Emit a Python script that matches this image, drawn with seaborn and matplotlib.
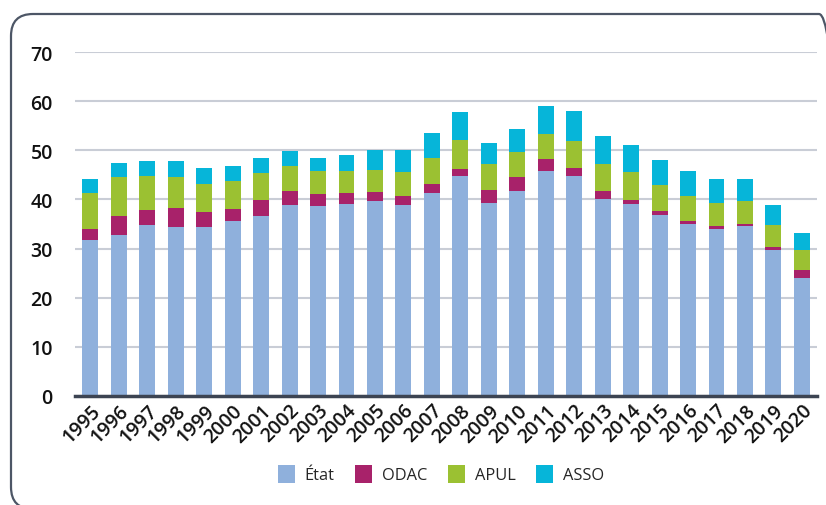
import matplotlib
matplotlib.use("Agg")
import matplotlib.pyplot as plt
import seaborn as sns
import numpy as np
from matplotlib.patches import FancyBboxPatch, Patch
from matplotlib.transforms import IdentityTransform

years = [str(y) for y in range(1995, 2021)]
etat = [31.8, 32.7, 34.7, 34.4, 34.4, 35.7, 36.6, 38.8, 38.7, 39.0, 39.7, 38.8, 41.4,
        44.7, 39.2, 41.8, 45.8, 44.7, 40.1, 39.0, 36.9, 35.0, 34.0, 34.6, 29.8, 24.0]
odac = [2.1, 3.9, 3.2, 3.9, 3.0, 2.4, 3.2, 2.9, 2.5, 2.3, 1.8, 1.9, 1.7,
        1.5, 2.7, 2.8, 2.4, 1.7, 1.6, 0.9, 0.7, 0.6, 0.6, 0.4, 0.5, 1.6]
apul = [7.4, 7.9, 6.8, 6.2, 5.7, 5.6, 5.6, 5.2, 4.6, 4.5, 4.4, 4.8, 5.3,
        5.9, 5.4, 5.1, 5.2, 5.5, 5.6, 5.6, 5.3, 5.1, 4.7, 4.7, 4.5, 4.1]
asso = [2.8, 3.0, 3.2, 3.4, 3.2, 3.1, 3.1, 3.0, 2.7, 3.3, 4.2, 4.6, 5.2,
        5.7, 4.1, 4.6, 5.6, 6.1, 5.6, 5.6, 5.2, 5.0, 4.8, 4.5, 4.0, 3.5]

series_names = ["État", "ODAC", "APUL", "ASSO"]
series_vals = [etat, odac, apul, asso]
colors = ["#8fb0dc", "#a8226a", "#9bc132", "#06b5d9"]
y_ticks = [0, 10, 20, 30, 40, 50, 60, 70]

sns.set_theme(style="white")
plt.rcParams['font.family'] = ['Open Sans', 'DejaVu Sans']

fig = plt.figure(figsize=(8.26, 5.06), dpi=100)
ax = fig.add_axes([75/826, 1-397/506, (817-75)/826, (397-53)/506])

bottom = np.zeros(len(years))
for name, vals, c in zip(series_names, series_vals, colors):
    sns.barplot(x=years, y=vals, bottom=bottom, color=c, width=0.56,
                saturation=1, ax=ax, linewidth=0, zorder=3)
    bottom = bottom + np.array(vals)

ax.set_xlim(-0.54, len(years) - 1 + 0.53)
ax.set_ylim(0, 70)
ax.set_yticks(y_ticks)
ax.set_yticklabels([str(t) for t in y_ticks], fontsize=14, fontweight='semibold', color='#111111')
ax.yaxis.grid(True, color='#c9cdd6', linewidth=1.5, zorder=0)
ax.xaxis.grid(False)
ax.set_axisbelow(True)
for s in ['top', 'right', 'left']:
    ax.spines[s].set_visible(False)
ax.spines['bottom'].set_color('#3c4452')
ax.spines['bottom'].set_linewidth(2.5)
ax.spines['bottom'].set_zorder(5)
ax.tick_params(axis='y', length=0, pad=16)
ax.tick_params(axis='x', length=0, pad=3)
ax.set_xticks(range(len(years)))
ax.set_xticklabels(years, rotation=45, ha='right', va='top', rotation_mode='anchor',
                   fontsize=14, fontweight='semibold', color='#111111')
ax.set_xlabel("")
ax.set_ylabel("")

handles = [Patch(facecolor=c, edgecolor='none') for c in colors]
fig.legend(handles, series_names, loc='center', bbox_to_anchor=(441/826, 1-475/506),
           ncol=4, frameon=False, fontsize=11.8, handlelength=1.05, handleheight=1.35,
           columnspacing=1.25, handletextpad=0.6)

border = FancyBboxPatch((11, -4), 830, 495, boxstyle="round,pad=0,rounding_size=22",
                        transform=IdentityTransform(), facecolor='none',
                        edgecolor='#4d5666', linewidth=1.6, zorder=10)
fig.patches.append(border)

fig.savefig("out.png", dpi=100)
